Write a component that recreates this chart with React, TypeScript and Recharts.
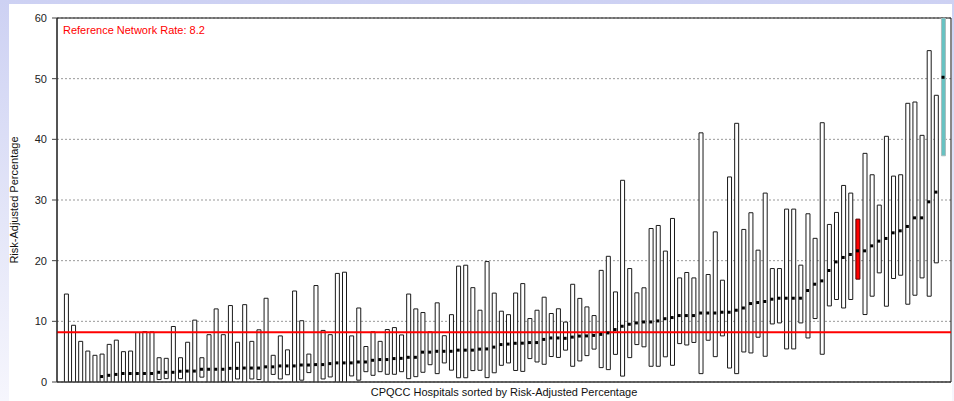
import React from 'react';
import {
  ComposedChart,
  Bar,
  Scatter,
  XAxis,
  YAxis,
  CartesianGrid,
  ReferenceLine,
  ReferenceArea,
  Cell,
  Label,
} from 'recharts';

// Lower confidence bound per hospital (sorted by risk-adjusted percentage)
const lower = [
  0, 0, 0, 0, 0, 0, 0, 0, 0, 0,
  0, 0, 0, 0.4, 0.55, 0, 0.55, 0, 0, 0.8,
  0, 0, 0.1, 0, 0.5, 0, 0.5, 0.4, 0, 1.25,
  0.5, 1.2, 0, 0.3, 1.55, 0, 0.5, 0.83, 0, 0,
  1.0, 0.3, 1.7, 1.1, 1.7, 1.27, 1.27, 1.7, 0.55, 0.88,
  1.6, 2.85, 1.38, 3.14, 1.95, 0.7, 0.7, 1.88, 1.93, 0.72,
  1.52, 2.75, 3.14, 1.9, 1.75, 3.86, 3.3, 2.92, 4.2, 4.05,
  5.25, 2.59, 3.47, 4.35, 5.42, 2.37, 2.04, 4.55, 0.97, 4.02,
  6.17, 5.8, 2.59, 2.59, 4.15, 2.75, 6.33, 6.1, 6.52, 1.38,
  6.88, 4.18, 7.6, 2.3, 1.38, 4.95, 4.79, 7.38, 4.24, 9.57,
  9.74, 5.45, 5.45, 9.74, 7.26, 10.46, 4.57, 12.54, 13.6, 12.2,
  13.6, 16.95, 11.12, 14.14, 17.99, 12.49, 17.06, 17.6, 12.82, 14.3,
  17.16, 14.14, 19.64, 37.29,
];

// Upper confidence bound per hospital
const upper = [
  14.5, 9.35, 6.7, 5.1, 4.4, 4.6, 6.2, 6.9, 5.0, 5.1,
  8.15, 8.3, 8.25, 4.0, 3.9, 9.15, 4.0, 6.55, 10.2, 4.0,
  7.8, 12.05, 7.8, 12.6, 6.55, 12.75, 6.7, 8.6, 13.8, 4.4,
  7.6, 5.3, 15.0, 10.1, 4.6, 15.9, 8.5, 7.8, 17.9, 18.1,
  7.6, 12.2, 5.85, 8.27, 6.7, 8.65, 8.97, 7.76, 14.5, 12.05,
  11.45, 8.27, 13.05, 7.63, 11.1, 19.1, 19.25, 15.55, 11.83, 19.85,
  14.65, 11.67, 11.1, 14.67, 16.22, 10.46, 11.83, 13.98, 11.29, 12.07,
  9.88, 16.11, 13.78, 12.38, 10.95, 18.4, 20.72, 14.85, 33.25, 18.7,
  14.7, 15.53, 25.3, 25.8, 21.58, 26.96, 17.16, 18.05, 17.16, 41.07,
  17.72, 24.75, 16.78, 33.8, 42.64, 25.15, 27.9, 21.73, 31.14, 18.7,
  18.7, 28.5, 28.5, 19.26, 27.73, 23.68, 42.74, 25.97, 27.95, 32.4,
  31.14, 26.85, 37.69, 34.16, 29.16, 40.5, 33.94, 34.16, 45.94, 46.15,
  40.66, 54.62, 47.26, 60,
];

// Risk-adjusted percentage (point estimate) per hospital
const estimate = [
  0, 0, 0, 0, 0, 0.9, 1.1, 1.25, 1.4, 1.4,
  1.4, 1.4, 1.4, 1.6, 1.6, 1.6, 1.77, 1.8, 1.8, 2.1,
  2.1, 2.1, 2.1, 2.25, 2.25, 2.3, 2.3, 2.3, 2.5, 2.5,
  2.65, 2.65, 2.65, 2.8, 2.8, 2.87, 2.87, 3.03, 3.15, 3.15,
  3.15, 3.3, 3.3, 3.58, 3.7, 3.7, 3.86, 3.9, 4.07, 4.07,
  4.92, 4.92, 5.06, 5.06, 5.06, 5.25, 5.25, 5.25, 5.42, 5.45,
  5.75, 6.17, 6.25, 6.38, 6.4, 6.5, 6.5, 7.02, 7.26, 7.26,
  7.2, 7.4, 7.57, 7.6, 7.68, 7.85, 8.09, 8.64, 9.19, 9.52,
  9.74, 9.9, 9.9, 10.07, 10.43, 10.62, 10.95, 10.95, 10.95, 11.37,
  11.37, 11.37, 11.5, 11.5, 11.83, 12.2, 12.93, 13.1, 13.27, 13.65,
  13.81, 13.81, 13.81, 13.81, 15.08, 16.12, 16.67, 18.38, 19.8, 20.53,
  21.02, 21.62, 21.62, 22.44, 23.22, 23.66, 24.59, 24.92, 25.64, 27.06,
  27.06, 29.7, 31.3, 50.23,
];

const hospitals = estimate.map((_, i) => `Hospital ${i + 1}`);
const highlightedHospital = 'Hospital 112';
const leadingHospital = 'Hospital 124';
const referenceRate = 8.2;
const yTicks = [0, 10, 20, 30, 40, 50, 60];

const data = hospitals.map((name, i) => ({
  name,
  rank: i,
  range: [lower[i], upper[i]],
  est: estimate[i],
}));

const FONT = '"Liberation Sans", Arial, Helvetica, sans-serif';

const Marker = (props: any) => {
  const { cx, cy, payload } = props;
  if (!payload || payload.est <= 0 || cx == null || cy == null) return <g />;
  return <rect x={cx - 1.5} y={cy - 1.5} width={3} height={3} fill="#000" />;
};

export default function App() {
  return (
    <div
      style={{
        position: 'absolute',
        left: 0,
        top: 0,
        width: 954,
        height: 401,
        background: 'linear-gradient(to bottom, #cdd1f3 0%, #e4e6f8 55%, #f6f6fd 100%)',
        overflow: 'hidden',
      }}
    >
      <div
        style={{
          position: 'absolute',
          left: 9,
          top: 4,
          width: 943,
          height: 397,
          background: '#fff',
        }}
      />
      <div style={{ position: 'absolute', left: 0, top: 0 }}>
        <ComposedChart
          width={954}
          height={401}
          data={data}
          margin={{ top: 18, right: 3, bottom: 0, left: 0 }}
        >
          <CartesianGrid
            horizontal
            vertical={false}
            stroke="#999"
            strokeDasharray="2 2"
          />
          <XAxis
            dataKey="rank"
            type="number"
            domain={[-1.26, 124.12]}
            allowDataOverflow
            height={19}
            tick={false}
            tickLine={false}
            axisLine={{ stroke: '#444' }}
          >
            <Label
              content={(p: any) => {
                const vb = p.viewBox || { x: 57, y: 382, width: 894 };
                return (
                  <text
                    x={vb.x + vb.width / 2}
                    y={vb.y + 14}
                    textAnchor="middle"
                    fontSize={11}
                    fontFamily={FONT}
                    fill="#111"
                  >
                    CPQCC Hospitals sorted by Risk-Adjusted Percentage
                  </text>
                );
              }}
            />
          </XAxis>
          <YAxis
            type="number"
            domain={[0, 60]}
            ticks={yTicks}
            allowDataOverflow
            width={57}
            tickSize={5}
            tickMargin={5}
            tick={{ fontSize: 11, fontFamily: FONT, fill: '#222' }}
            tickLine={{ stroke: '#444' }}
            axisLine={{ stroke: '#222' }}
          >
            <Label
              content={(p: any) => {
                const vb = p.viewBox || { x: 0, y: 18, height: 364 };
                const cy = vb.y + vb.height / 2;
                return (
                  <text
                    x={14}
                    y={cy}
                    transform={`rotate(-90 14 ${cy})`}
                    textAnchor="middle"
                    dominantBaseline="central"
                    fontSize={11}
                    fontFamily={FONT}
                    fill="#111"
                  >
                    Risk-Adjusted Percentage
                  </text>
                );
              }}
            />
          </YAxis>
          <ReferenceArea
            y1={0}
            y2={60}
            fill="none"
            fillOpacity={0}
            stroke="#111"
            strokeOpacity={1}
            ifOverflow="visible"
          >
            <Label
              content={(p: any) => {
                const vb = p.viewBox || { x: 57, y: 18 };
                return (
                  <text
                    x={vb.x + 6}
                    y={vb.y + 16}
                    fontSize={11}
                    fontFamily={FONT}
                    fill="#ff0000"
                  >
                    {`Reference Network Rate: ${referenceRate}`}
                  </text>
                );
              }}
            />
          </ReferenceArea>
          <Bar dataKey="range" barSize={4} isAnimationActive={false}>
            {data.map((d) => {
              if (d.name === highlightedHospital)
                return <Cell key={d.name} fill="#ff0000" stroke="#550000" strokeWidth={1} />;
              if (d.name === leadingHospital)
                return <Cell key={d.name} fill="#66c2c2" stroke="#a9bcbc" strokeWidth={1} />;
              return <Cell key={d.name} fill="#ffffff" stroke="#1a1a1a" strokeWidth={1} />;
            })}
          </Bar>
          <ReferenceLine y={referenceRate} stroke="#ff0000" strokeWidth={2} ifOverflow="visible" />
          <Scatter dataKey="est" shape={Marker} isAnimationActive={false} />
        </ComposedChart>
      </div>
    </div>
  );
}
